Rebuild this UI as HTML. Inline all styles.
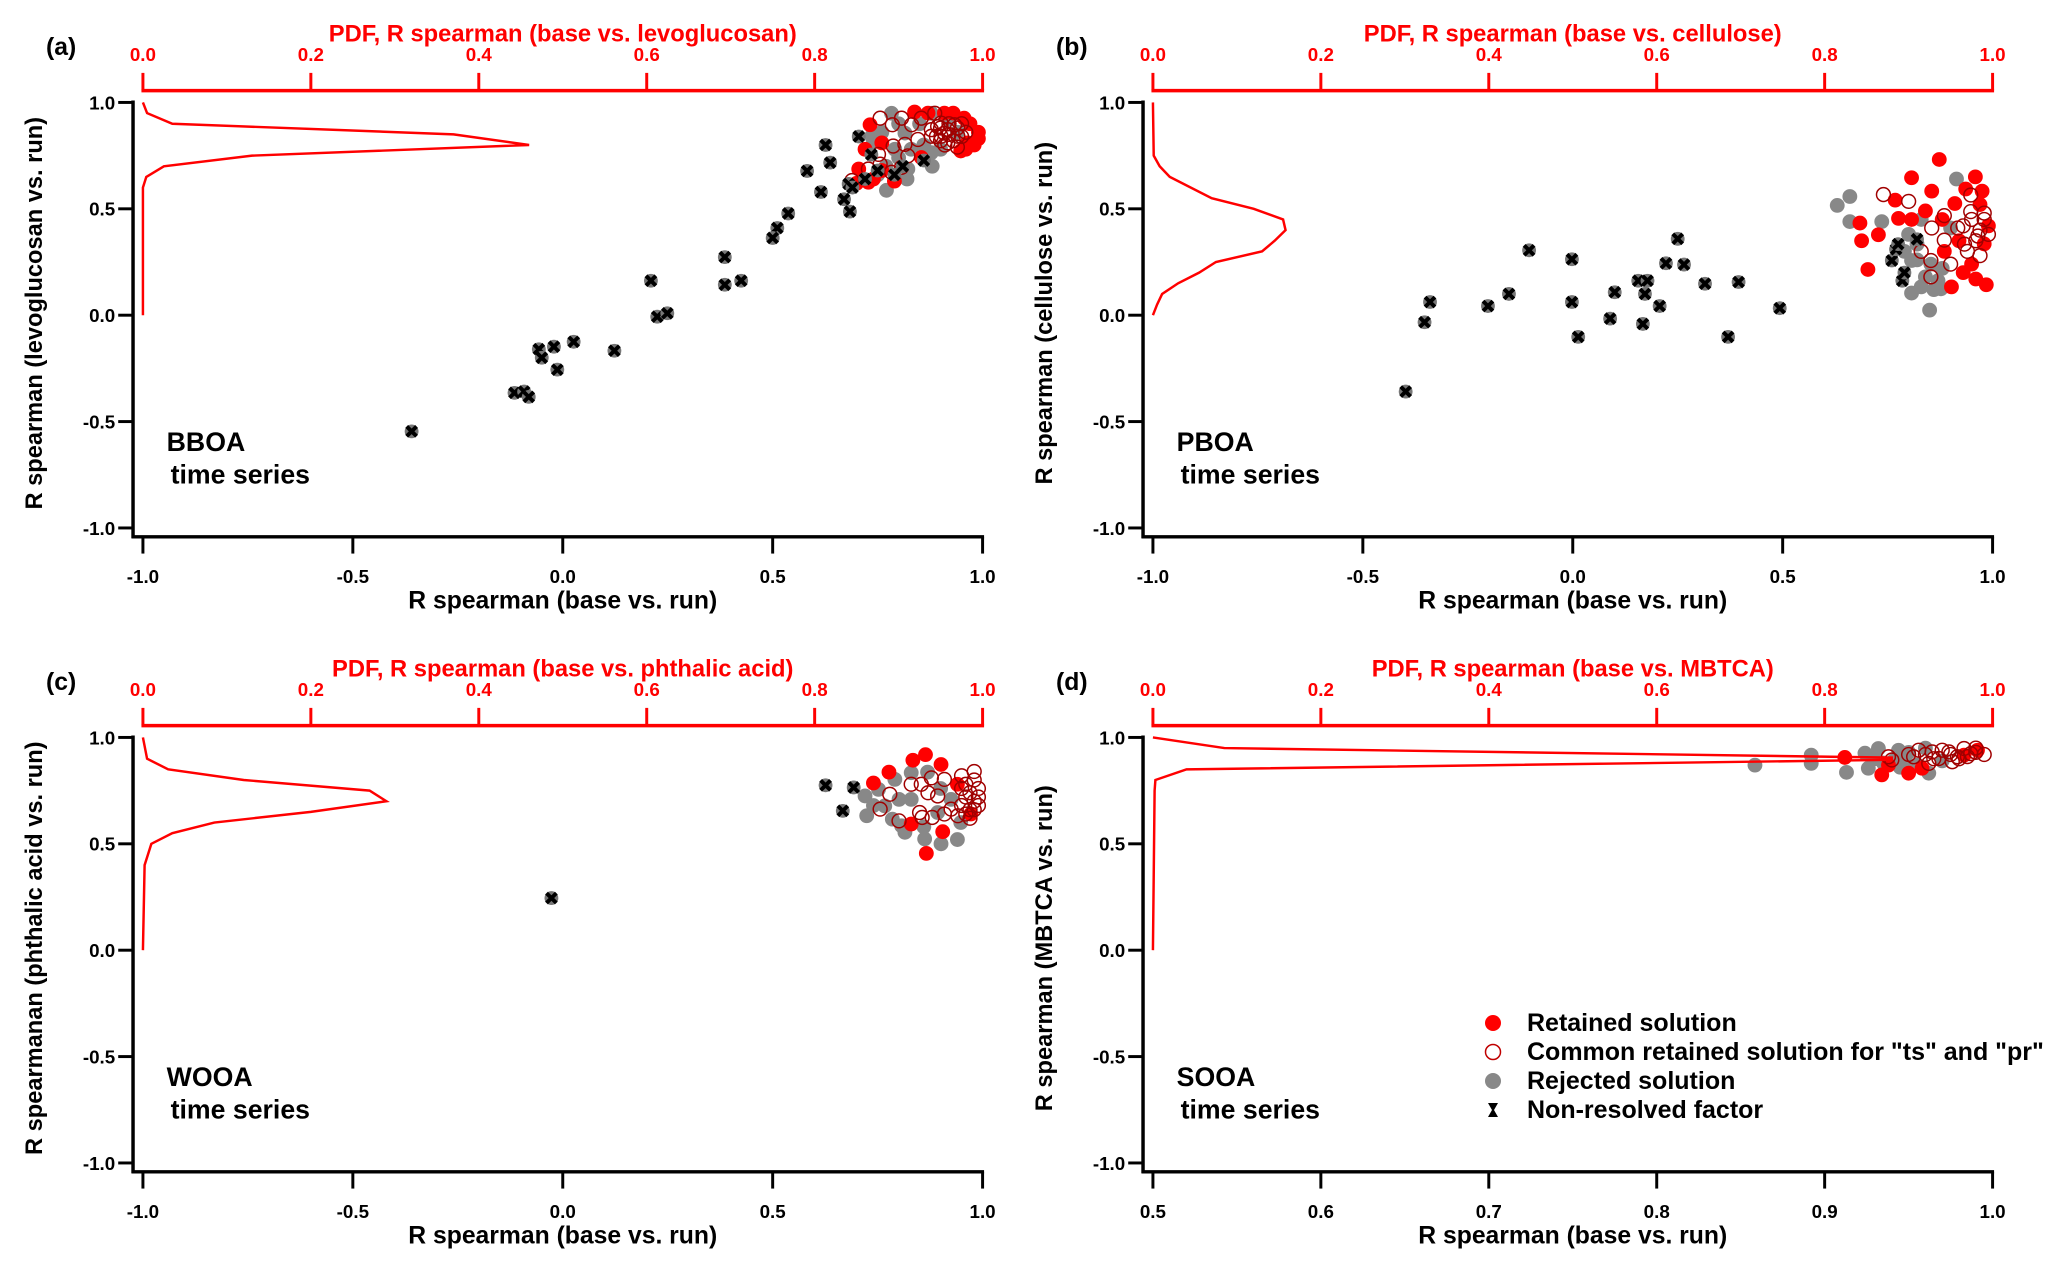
<!DOCTYPE html>
<html><head><meta charset="utf-8"><style>
html,body{margin:0;padding:0;background:#fff;}
svg{display:block;font-family:"Liberation Sans",Arial,sans-serif;font-weight:bold;}
</style></head>
<body>
<svg id="fig" width="2067" height="1276" viewBox="0 0 2067 1276" xmlns="http://www.w3.org/2000/svg"></svg>
<script>
// ---------- data ----------
const xTicksFull = [-1.0, -0.5, 0.0, 0.5, 1.0];
const xTickLabelsFull = ["-1.0", "-0.5", "0.0", "0.5", "1.0"];
const xTicksD = [0.5, 0.6, 0.7, 0.8, 0.9, 1.0];
const xTickLabelsD = ["0.5", "0.6", "0.7", "0.8", "0.9", "1.0"];
const yTicks = [-1.0, -0.5, 0.0, 0.5, 1.0];
const yTickLabels = ["-1.0", "-0.5", "0.0", "0.5", "1.0"];
const pdfTicks = [0, 0.2, 0.4, 0.6, 0.8, 1.0];
const pdfTickLabels = ["0.0", "0.2", "0.4", "0.6", "0.8", "1.0"];

// panel a (BBOA)
const aPdfY = [1.0, 0.95, 0.90, 0.85, 0.80, 0.75, 0.70, 0.65, 0.60, 0.0];
const aPdfV = [0, 0.005, 0.035, 0.37, 0.46, 0.13, 0.025, 0.004, 0, 0];
const aRejected = [[0.783,0.949],[0.736,0.841],[0.878,0.949],[0.771,0.587],[0.822,0.687],[0.815,0.856],[0.878,0.764],[0.791,0.78],[0.74,0.82],[0.76,0.86],[0.80,0.90],[0.85,0.90],[0.86,0.80],[0.83,0.78],[0.80,0.74],[0.77,0.70],[0.75,0.66],[0.82,0.64],[0.90,0.78],[0.92,0.92],[0.94,0.86],[0.88,0.70]];
const aRetained = [[0.838,0.955],[0.956,0.926],[0.964,0.81],[0.948,0.772],[0.732,0.895],[0.72,0.78],[0.705,0.687],[0.728,0.625],[0.76,0.81],[0.854,0.741],[0.909,0.95],[0.98,0.80],[0.99,0.86],[0.97,0.90],[0.99,0.83],[0.96,0.78],[0.74,0.64],[0.70,0.62],[0.76,0.68],[0.79,0.63],[0.93,0.95],[0.87,0.95]];
const aCommon = [[0.756,0.926],[0.785,0.895],[0.807,0.926],[0.831,0.895],[0.854,0.926],[0.886,0.949],[0.901,0.903],[0.917,0.872],[0.933,0.895],[0.901,0.841],[0.878,0.841],[0.846,0.826],[0.815,0.803],[0.787,0.795],[0.752,0.756],[0.756,0.71],[0.728,0.687],[0.783,0.672],[0.807,0.695],[0.689,0.633],[0.822,0.749],[0.917,0.81],[0.941,0.841],[0.893,0.887],[0.878,0.872],[0.909,0.856],[0.90,0.88],[0.92,0.85],[0.94,0.88],[0.93,0.82],[0.95,0.84],[0.91,0.80],[0.89,0.84],[0.96,0.86],[0.94,0.79],[0.92,0.90],[0.95,0.90],[0.90,0.82]];
const aNonResolved = [[0.705,0.84],[0.626,0.80],[0.637,0.717],[0.582,0.678],[0.615,0.579],[0.681,0.617],[0.670,0.545],[0.684,0.487],[0.537,0.478],[0.511,0.41],[0.5,0.363],[0.386,0.273],[0.386,0.143],[0.425,0.162],[0.21,0.162],[0.225,-0.007],[0.249,0.009],[0.026,-0.125],[-0.021,-0.148],[-0.057,-0.16],[-0.05,-0.2],[-0.013,-0.256],[0.123,-0.167],[-0.115,-0.365],[-0.092,-0.359],[-0.081,-0.384],[-0.36,-0.546],[0.72,0.64],[0.75,0.68],[0.735,0.755],[0.79,0.66],[0.81,0.70],[0.86,0.727],[0.69,0.60]];

// panel b (PBOA)
const bPdfY = [1.0, 0.75, 0.70, 0.65, 0.55, 0.50, 0.45, 0.40, 0.35, 0.30, 0.25, 0.20, 0.15, 0.10, 0.05, 0.0];
const bPdfV = [0, 0.001, 0.008, 0.02, 0.07, 0.12, 0.155, 0.158, 0.145, 0.13, 0.075, 0.055, 0.03, 0.011, 0.005, 0];
const bRejected = [[0.63,0.516],[0.66,0.558],[0.66,0.44],[0.736,0.44],[0.914,0.64],[0.85,0.024],[0.807,0.104],[0.83,0.133],[0.877,0.124],[0.82,0.334],[0.853,0.24],[0.9,0.41],[0.87,0.162],[0.807,0.257],[0.82,0.26],[0.84,0.18],[0.80,0.38],[0.86,0.12],[0.88,0.22],[0.83,0.45],[0.79,0.30]];
const bRetained = [[0.873,0.732],[0.807,0.646],[0.959,0.65],[0.684,0.433],[0.688,0.35],[0.703,0.215],[0.728,0.378],[0.768,0.541],[0.776,0.455],[0.855,0.583],[0.902,0.133],[0.985,0.143],[0.936,0.593],[0.975,0.583],[0.807,0.45],[0.91,0.525],[0.98,0.335],[0.95,0.24],[0.84,0.49],[0.885,0.30],[0.97,0.52],[0.99,0.42],[0.93,0.20],[0.96,0.17],[0.88,0.45],[0.92,0.35]];
const bCommon = [[0.74,0.567],[0.8,0.535],[0.855,0.41],[0.885,0.468],[0.917,0.41],[0.948,0.487],[0.98,0.45],[0.965,0.372],[0.933,0.334],[0.885,0.353],[0.853,0.257],[0.9,0.24],[0.853,0.18],[0.948,0.565],[0.83,0.3],[0.95,0.45],[0.97,0.40],[0.96,0.35],[0.98,0.48],[0.94,0.30],[0.97,0.28],[0.93,0.42],[0.99,0.38]];
const bNonResolved = [[-0.398,-0.359],[-0.353,-0.033],[-0.34,0.062],[-0.202,0.043],[-0.152,0.10],[-0.104,0.305],[-0.002,0.263],[-0.002,0.062],[0.013,-0.102],[0.089,-0.016],[0.10,0.108],[0.156,0.162],[0.178,0.162],[0.172,0.10],[0.167,-0.041],[0.207,0.043],[0.222,0.244],[0.25,0.359],[0.265,0.238],[0.315,0.148],[0.395,0.156],[0.37,-0.102],[0.493,0.033],[0.76,0.257],[0.77,0.31],[0.775,0.334],[0.785,0.162],[0.79,0.2],[0.82,0.357]];

// panel c (WOOA)
const cPdfY = [1.0, 0.90, 0.85, 0.80, 0.75, 0.70, 0.65, 0.60, 0.55, 0.50, 0.45, 0.40, 0.0];
const cPdfV = [0, 0.005, 0.03, 0.12, 0.27, 0.29, 0.2, 0.085, 0.035, 0.01, 0.006, 0.002, 0];
const cRejected = [[0.72,0.725],[0.724,0.632],[0.791,0.803],[0.83,0.834],[0.869,0.837],[0.815,0.554],[0.862,0.523],[0.901,0.5],[0.948,0.60],[0.767,0.678],[0.801,0.709],[0.752,0.756],[0.807,0.585],[0.893,0.647],[0.83,0.709],[0.785,0.616],[0.925,0.709],[0.74,0.68],[0.86,0.58],[0.90,0.76],[0.94,0.52]];
const cRetained = [[0.864,0.919],[0.834,0.893],[0.777,0.837],[0.901,0.873],[0.74,0.786],[0.905,0.557],[0.866,0.455],[0.972,0.64],[0.83,0.593],[0.94,0.78]];
const cCommon = [[0.779,0.733],[0.756,0.663],[0.801,0.608],[0.856,0.624],[0.88,0.624],[0.909,0.64],[0.854,0.78],[0.878,0.81],[0.909,0.803],[0.893,0.725],[0.925,0.663],[0.941,0.632],[0.85,0.647],[0.83,0.78],[0.87,0.74],[0.95,0.82],[0.96,0.78],[0.97,0.74],[0.98,0.70],[0.97,0.66],[0.96,0.72],[0.98,0.80],[0.99,0.76],[0.99,0.68],[0.95,0.68],[0.96,0.64],[0.98,0.84],[0.97,0.62],[0.99,0.72],[0.95,0.76],[0.98,0.66]];
const cNonResolved = [[0.626,0.775],[0.693,0.765],[0.667,0.655],[-0.027,0.245]];

// panel d (SOOA)
const dPdfY = [1.0, 0.95, 0.905, 0.895, 0.85, 0.80, 0.75, 0.0];
const dPdfV = [0, 0.085, 0.88, 0.88, 0.04, 0.003, 0.002, 0];
const dRejected = [[0.8585,0.87],[0.892,0.917],[0.892,0.878],[0.913,0.836],[0.924,0.926],[0.926,0.855],[0.932,0.948],[0.944,0.94],[0.948,0.894],[0.962,0.832],[0.941,0.89],[0.93,0.90],[0.95,0.93],[0.96,0.95],[0.97,0.89],[0.955,0.87],[0.945,0.86],[0.935,0.88]];
const dRetained = [[0.912,0.906],[0.934,0.824],[0.95,0.832],[0.938,0.87],[0.958,0.855],[0.991,0.94],[0.983,0.917]];
const dCommon = [[0.938,0.909],[0.94,0.894],[0.953,0.909],[0.956,0.94],[0.964,0.932],[0.968,0.901],[0.974,0.932],[0.979,0.909],[0.983,0.948],[0.987,0.924],[0.976,0.886],[0.962,0.878],[0.99,0.93],[0.985,0.91],[0.975,0.92],[0.97,0.94],[0.99,0.95],[0.98,0.90],[0.995,0.92],[0.965,0.90],[0.96,0.92],[0.95,0.92]];
const dNonResolved = [];

// ---------- drawing ----------
const NS = "http://www.w3.org/2000/svg";
const svg = document.getElementById("fig");
function mk(tag, attrs, parent) {
  const e = document.createElementNS(NS, tag);
  for (const k in attrs) e.setAttribute(k, attrs[k]);
  (parent || svg).appendChild(e);
  return e;
}
function txt(s, attrs, parent) { const t = mk("text", attrs, parent); t.textContent = s; return t; }

function panel(p) {
  const g = mk("g", {transform: "translate(" + (p.ox + 1.5) + "," + p.oy + ") scale(0.989,0.985)"});
  
  
  const X0 = 143, X1 = 992;
  const Ytop = 104, Ybot = 536;
  const sx = v => X0 + (v - p.xmin) / (p.xmax - p.xmin) * (X1 - X0);
  const sy = v => Ytop + (1 - v) / 2 * (Ybot - Ytop);
  const spdf = v => X0 + v * (X1 - X0);
  const axL = X0 - 10, axB = Ybot + 9;

  const lab = txt("(" + p.id + ")", {x: 45, y: 56, "font-size": 25, fill: "#000"}, g);
  
  

  const la = mk("line", {x1: axL, y1: Ytop - 2, x2: axL, y2: axB + 1.5, stroke: "#000", "stroke-width": 3.5}, g);
  
  
  yTicks.forEach((v, i) => {
    const t = mk("line", {x1: axL - 15, y1: sy(v), x2: axL, y2: sy(v), stroke: "#000", "stroke-width": 3}, g);
    
    
    const tl = txt(yTickLabels[i], {x: axL - 18, y: sy(v) + 7, "text-anchor": "end", "font-size": 19, fill: "#000"}, g);
    
    
  });
  const ba = mk("line", {x1: axL - 1.5, y1: axB, x2: X1 + 1.5, y2: axB, stroke: "#000", "stroke-width": 3.5}, g);
  
  
  p.xticks.forEach((v, i) => {
    const t = mk("line", {x1: sx(v), y1: axB, x2: sx(v), y2: axB + 17, stroke: "#000", "stroke-width": 3}, g);
    
    
    const tl = txt(p.xlabels[i], {x: sx(v), y: axB + 47, "text-anchor": "middle", "font-size": 19, fill: "#000"}, g);
    
    
  });
  const xt = txt("R spearman (base vs. run)", {x: (X0 + X1) / 2, y: 618, "text-anchor": "middle", "font-size": 25, fill: "#000"}, g);
  
  
  const yt = txt(p.ytitle, {x: 0, y: 0, "text-anchor": "middle", "font-size": 24, fill: "#000", transform: "translate(41,318) rotate(-90)"}, g);
  
  

  const ra = mk("line", {x1: X0 - 1.5, y1: 92, x2: X1 + 1.5, y2: 92, stroke: "#f00", "stroke-width": 3.5}, g);
  
  
  pdfTicks.forEach((v, i) => {
    const t = mk("line", {x1: spdf(v), y1: 74, x2: spdf(v), y2: 92, stroke: "#f00", "stroke-width": 3}, g);
    
    
    const tl = txt(pdfTickLabels[i], {x: spdf(v), y: 62, "text-anchor": "middle", "font-size": 19, fill: "#f00"}, g);
    
    
  });
  const rt = txt(p.pdftitle, {x: (X0 + X1) / 2, y: 42, "text-anchor": "middle", "font-size": 24, fill: "#f00"}, g);
  
  

  const an1 = txt(p.name, {x: 167, y: 458, "font-size": 27, fill: "#000"}, g);
  
  
  const an2 = txt("time series", {x: 171, y: 491, "font-size": 27, fill: "#000"}, g);
  
  

  p.rej.forEach(d => {
    const c = mk("circle", {cx: sx(d[0]), cy: sy(d[1]), r: 7.5, fill: "#888"}, g);
    
    
  });
  p.ret.forEach(d => {
    const c = mk("circle", {cx: sx(d[0]), cy: sy(d[1]), r: 7.5, fill: "#f00"}, g);
    
    
  });
  p.com.forEach(d => {
    const c = mk("circle", {cx: sx(d[0]), cy: sy(d[1]), r: 7, fill: "none", stroke: "#a00000", "stroke-width": 1.5}, g);
    
    
  });
  p.non.forEach(d => {
    const cx = sx(d[0]), cy = sy(d[1]);
    const c = mk("circle", {cx: cx, cy: cy, r: 7, fill: "#777"}, g);
    
    
    const m = mk("path", {d: `M${cx-5},${cy-5}L${cx+5},${cy+5}M${cx+5},${cy-5}L${cx-5},${cy+5}`, stroke: "#000", "stroke-width": 4}, g);
    
    
  });

  const pts = p.pdfY.map((y, i) => spdf(p.pdfV[i]).toFixed(1) + "," + sy(y).toFixed(1)).join(" ");
  const pl = mk("polyline", {points: pts, fill: "none", stroke: "#f00", "stroke-width": 2.5}, g);
  
  
}

panel({id: "a", ox: 0, oy: 0, xmin: -1, xmax: 1, xticks: xTicksFull, xlabels: xTickLabelsFull,
  ytitle: "R spearman  (levoglucosan vs. run)", pdftitle: "PDF, R spearman (base vs. levoglucosan)", name: "BBOA",
  pdfY: aPdfY, pdfV: aPdfV, rej: aRejected, ret: aRetained, com: aCommon, non: aNonResolved});
panel({id: "b", ox: 1010, oy: 0, xmin: -1, xmax: 1, xticks: xTicksFull, xlabels: xTickLabelsFull,
  ytitle: "R spearman (cellulose vs. run)", pdftitle: "PDF, R spearman (base vs. cellulose)", name: "PBOA",
  pdfY: bPdfY, pdfV: bPdfV, rej: bRejected, ret: bRetained, com: bCommon, non: bNonResolved});
panel({id: "c", ox: 0, oy: 635, xmin: -1, xmax: 1, xticks: xTicksFull, xlabels: xTickLabelsFull,
  ytitle: "R spearmanan (phthalic acid vs. run)", pdftitle: "PDF, R spearman (base vs. phthalic acid)", name: "WOOA",
  pdfY: cPdfY, pdfV: cPdfV, rej: cRejected, ret: cRetained, com: cCommon, non: cNonResolved});
panel({id: "d", ox: 1010, oy: 635, xmin: 0.5, xmax: 1.0, xticks: xTicksD, xlabels: xTickLabelsD,
  ytitle: "R spearman (MBTCA vs. run)", pdftitle: "PDF, R spearman (base vs. MBTCA)", name: "SOOA",
  pdfY: dPdfY, pdfV: dPdfV, rej: dRejected, ret: dRetained, com: dCommon, non: dNonResolved});

// legend
const lg = mk("g", {});


const legLabels = ["Retained solution", "Common retained solution for \"ts\" and \"pr\"", "Rejected solution", "Non-resolved factor"];
const legY = [1023, 1052, 1081, 1110];
legLabels.forEach((s, i) => {
  const e = mk("g", {}, lg);
  
  
  const y = legY[i], x = 1493;
  if (i === 0) mk("circle", {cx: x, cy: y, r: 8, fill: "#f00"}, e);
  if (i === 1) mk("circle", {cx: x, cy: y, r: 7.5, fill: "none", stroke: "#c00000", "stroke-width": 1.5}, e);
  if (i === 2) mk("circle", {cx: x, cy: y, r: 8, fill: "#888"}, e);
  if (i === 3) mk("path", {d: `M${x-5},${y-7}L${x+5},${y-7}L${x+1},${y}L${x+5},${y+7}L${x-5},${y+7}L${x-1},${y}Z`, fill: "#000"}, e);
  txt(s, {x: 1527, y: y + 8, "font-size": 25, fill: "#000"}, e);
});
</script>
</body></html>
